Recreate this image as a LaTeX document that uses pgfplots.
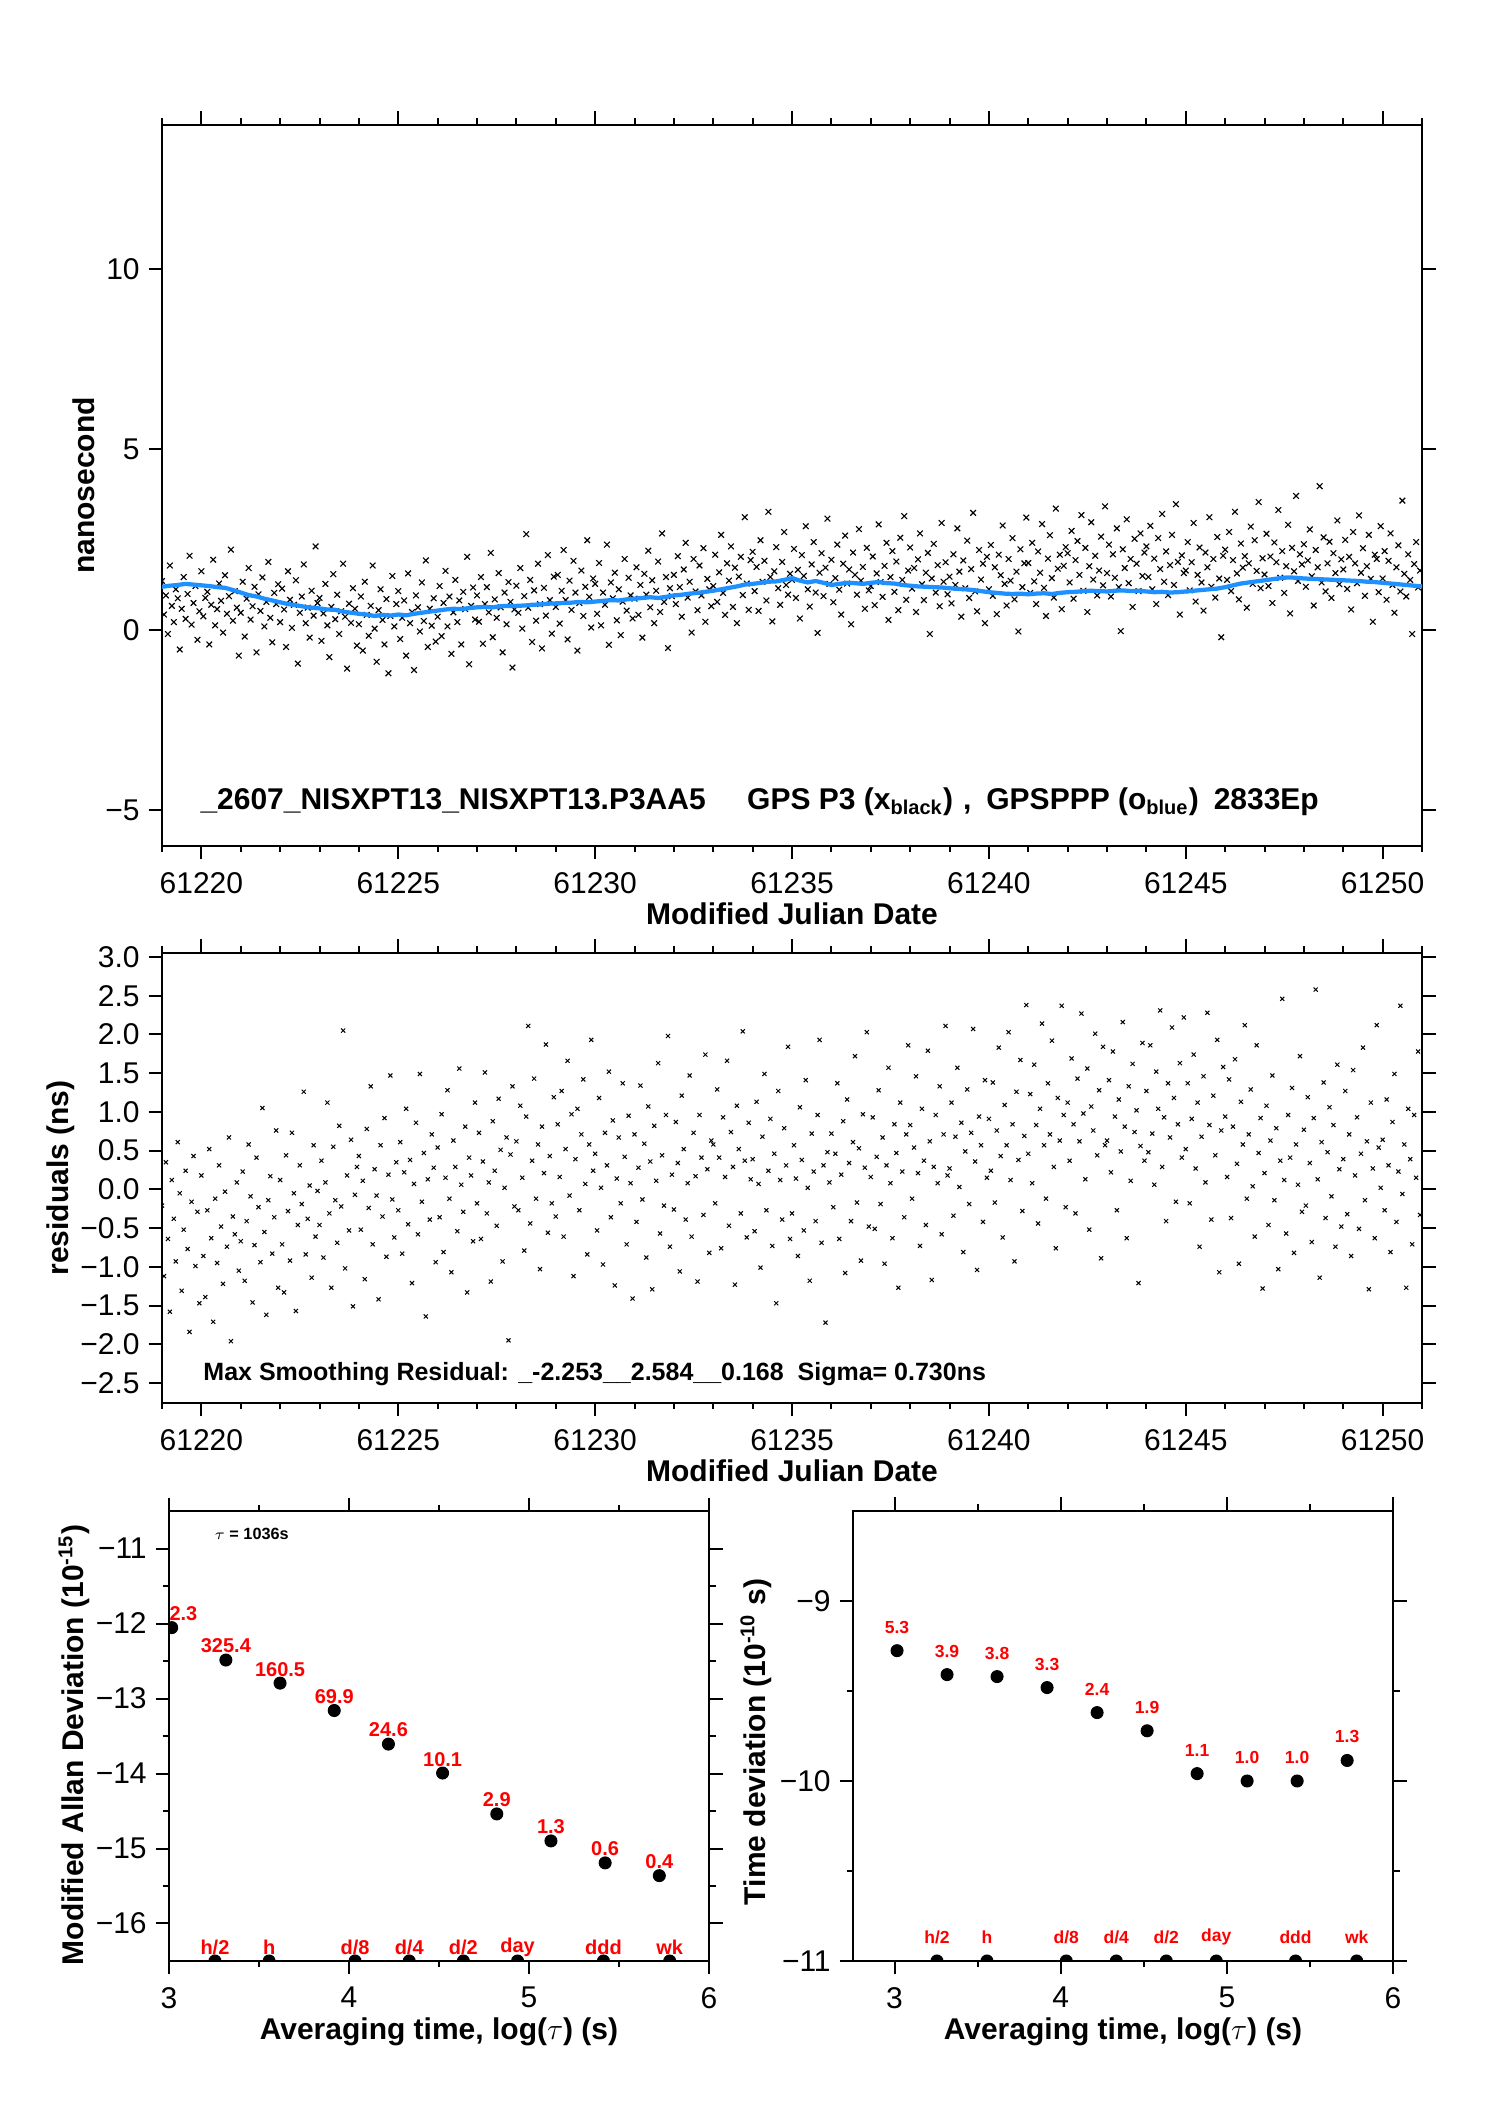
\documentclass[border=0pt]{standalone}
\usepackage{fontspec}
\setmainfont{Liberation Sans}
\usepackage{pgfplots}
\usepackage{pgfplotstable}
\pgfplotsset{compat=1.18}
\definecolor{gpsblue}{RGB}{30,144,255}

\pgfplotstableread{
x y
61219.00 1.35
61219.05 0.42
61219.10 0.95
61219.15 -0.12
61219.20 1.78
61219.25 0.66
61219.30 0.21
61219.35 1.12
61219.40 0.87
61219.45 -0.55
61219.50 0.58
61219.55 1.46
61219.60 0.30
61219.65 0.99
61219.70 2.05
61219.75 0.14
61219.80 0.74
61219.85 1.21
61219.90 -0.28
61219.95 0.51
61220.00 1.62
61220.05 0.37
61220.10 0.88
61220.15 1.05
61220.20 -0.41
61220.25 0.69
61220.30 1.94
61220.35 0.12
61220.40 0.57
61220.45 1.28
61220.50 0.80
61220.55 -0.08
61220.60 1.51
61220.65 0.44
61220.70 0.93
61220.75 2.22
61220.80 0.25
61220.85 1.07
61220.90 0.61
61220.95 -0.72
61221.00 0.47
61221.05 1.33
61221.10 -0.19
61221.15 0.86
61221.20 1.71
61221.25 0.28
61221.30 0.65
61221.35 1.19
61221.40 -0.63
61221.45 0.98
61221.50 0.52
61221.55 1.45
61221.60 0.09
61221.65 0.77
61221.70 1.88
61221.75 0.33
61221.80 -0.35
61221.85 1.02
61221.90 0.71
61221.95 1.26
61222.00 0.21
61222.05 1.14
61222.10 0.56
61222.15 -0.48
61222.20 1.62
61222.25 0.83
61222.30 0.05
61222.35 0.69
61222.40 1.37
61222.45 -0.94
61222.50 0.47
61222.55 0.92
61222.60 1.81
61222.65 0.18
61222.70 0.61
61222.75 -0.22
61222.80 1.08
61222.85 0.39
61222.90 2.31
61222.95 0.74
61223.00 0.88
61223.05 -0.31
61223.10 0.45
61223.15 1.27
61223.20 0.12
61223.25 -0.76
61223.30 0.63
61223.35 1.54
61223.40 0.29
61223.45 0.97
61223.50 -0.12
61223.55 0.51
61223.60 1.83
61223.65 0.36
61223.70 -1.08
61223.75 0.72
61223.80 0.19
61223.85 1.15
61223.90 0.58
61223.95 -0.44
61224.00 0.15
61224.05 0.92
61224.10 -0.58
61224.15 1.33
61224.20 0.41
61224.25 -0.17
61224.30 0.66
61224.35 1.78
61224.40 0.03
61224.45 -0.89
61224.50 0.54
61224.55 1.12
61224.60 0.27
61224.65 -0.41
61224.70 0.85
61224.75 -1.21
61224.80 0.38
61224.85 1.49
61224.90 0.09
61224.95 0.71
61225.00 1.07
61225.05 -0.26
61225.10 0.33
61225.15 0.81
61225.20 -0.72
61225.25 1.56
61225.30 0.18
61225.35 0.49
61225.40 -1.12
61225.45 0.95
61225.50 0.62
61225.55 -0.05
61225.60 1.31
61225.65 0.24
61225.70 1.92
61225.75 -0.48
61225.80 0.58
61225.85 0.11
61225.90 0.87
61225.95 -0.33
61226.00 0.36
61226.05 1.21
61226.10 -0.18
61226.15 0.74
61226.20 1.63
61226.25 0.09
61226.30 0.92
61226.35 -0.67
61226.40 0.48
61226.45 1.38
61226.50 0.21
61226.55 0.81
61226.60 -0.41
61226.65 1.05
61226.70 0.57
61226.75 2.02
61226.80 -0.96
61226.85 0.66
61226.90 1.17
61226.95 0.28
61227.00 0.95
61227.05 0.22
61227.10 1.46
61227.15 -0.39
61227.20 0.71
61227.25 1.18
61227.30 0.48
61227.35 2.13
61227.40 -0.21
61227.45 0.84
61227.50 0.33
61227.55 1.57
61227.60 0.62
61227.65 -0.63
61227.70 1.03
61227.75 0.15
61227.80 1.32
61227.85 0.77
61227.90 -1.05
61227.95 0.56
61228.00 1.22
61228.05 0.47
61228.10 1.71
61228.15 0.03
61228.20 0.93
61228.25 2.65
61228.30 0.61
61228.35 1.38
61228.40 -0.34
61228.45 1.09
61228.50 0.25
61228.55 1.83
61228.60 0.71
61228.65 -0.52
61228.70 1.16
61228.75 0.39
61228.80 2.07
61228.85 0.82
61228.90 -0.11
61228.95 1.47
61229.00 0.63
61229.05 1.52
61229.10 0.17
61229.15 1.08
61229.20 2.21
61229.25 0.82
61229.30 -0.27
61229.35 1.36
61229.40 0.55
61229.45 1.91
61229.50 1.03
61229.55 -0.58
61229.60 0.74
61229.65 1.64
61229.70 0.38
61229.75 1.19
61229.80 2.48
61229.85 0.91
61229.90 0.06
61229.95 1.42
61230.00 1.27
61230.05 0.44
61230.10 1.85
61230.15 0.12
61230.20 1.03
61230.25 0.69
61230.30 2.36
61230.35 -0.42
61230.40 1.31
61230.45 0.87
61230.50 1.58
61230.55 0.26
61230.60 1.12
61230.65 -0.15
61230.70 0.78
61230.75 1.96
61230.80 0.53
61230.85 1.44
61230.90 0.95
61230.95 0.31
61231.00 0.86
61231.05 1.73
61231.10 0.41
61231.15 1.24
61231.20 -0.22
61231.25 1.55
61231.30 0.97
61231.35 2.19
61231.40 0.62
61231.45 1.37
61231.50 0.18
61231.55 1.08
61231.60 1.89
61231.65 0.49
61231.70 2.67
61231.75 0.77
61231.80 1.46
61231.85 -0.51
61231.90 1.15
61231.95 0.93
61232.00 1.52
61232.05 0.71
61232.10 2.04
61232.15 1.18
61232.20 0.36
61232.25 1.67
61232.30 2.41
61232.35 0.89
61232.40 1.33
61232.45 -0.08
61232.50 1.96
61232.55 1.06
61232.60 0.54
61232.65 1.78
61232.70 0.95
61232.75 2.26
61232.80 0.22
61232.85 1.41
61232.90 1.12
61232.95 0.65
61233.00 1.21
61233.05 2.08
61233.10 0.77
61233.15 1.59
61233.20 2.63
61233.25 1.02
61233.30 0.41
61233.35 1.84
61233.40 1.36
61233.45 2.31
61233.50 0.63
61233.55 1.72
61233.60 0.18
61233.65 1.47
61233.70 2.02
61233.75 0.96
61233.80 3.12
61233.85 1.28
61233.90 0.55
61233.95 1.93
61234.00 2.16
61234.05 1.07
61234.10 1.74
61234.15 0.52
61234.20 2.48
61234.25 1.33
61234.30 1.91
61234.35 0.81
61234.40 3.27
61234.45 1.46
61234.50 0.23
61234.55 1.62
61234.60 2.29
61234.65 1.15
61234.70 0.69
61234.75 1.88
61234.80 2.71
61234.85 1.24
61234.90 0.97
61234.95 1.55
61235.00 1.38
61235.05 2.24
61235.10 0.88
61235.15 1.66
61235.20 0.31
61235.25 2.07
61235.30 1.49
61235.35 2.87
61235.40 1.12
61235.45 0.64
61235.50 1.81
61235.55 2.43
61235.60 1.03
61235.65 -0.09
61235.70 1.58
61235.75 2.12
61235.80 0.93
61235.85 1.72
61235.90 3.08
61235.95 1.27
61236.00 1.94
61236.05 0.76
61236.10 1.43
61236.15 2.36
61236.20 1.11
61236.25 0.42
61236.30 1.83
61236.35 2.61
61236.40 1.28
61236.45 1.67
61236.50 0.15
61236.55 2.14
61236.60 1.52
61236.65 0.97
61236.70 2.79
61236.75 1.36
61236.80 1.74
61236.85 0.58
61236.90 2.27
61236.95 1.09
61237.00 1.21
61237.05 2.03
61237.10 0.68
61237.15 1.56
61237.20 2.92
61237.25 1.32
61237.30 0.91
61237.35 1.77
61237.40 2.41
61237.45 0.27
61237.50 1.46
61237.55 2.18
61237.60 1.05
61237.65 1.89
61237.70 0.54
61237.75 2.55
61237.80 1.38
61237.85 3.15
61237.90 0.83
61237.95 1.64
61238.00 2.28
61238.05 1.14
61238.10 1.71
61238.15 0.49
61238.20 1.95
61238.25 2.67
61238.30 1.26
61238.35 0.82
61238.40 1.58
61238.45 2.13
61238.50 -0.12
61238.55 1.42
61238.60 2.38
61238.65 1.03
61238.70 1.79
61238.75 0.65
61238.80 2.96
61238.85 1.33
61238.90 1.87
61238.95 0.98
61239.00 1.47
61239.05 0.73
61239.10 2.09
61239.15 1.24
61239.20 2.81
61239.25 1.61
61239.30 0.36
61239.35 1.92
61239.40 1.15
61239.45 2.47
61239.50 0.88
61239.55 1.68
61239.60 3.24
61239.65 1.06
61239.70 0.51
61239.75 2.21
61239.80 1.39
61239.85 1.83
61239.90 0.18
61239.95 2.02
61240.00 1.12
61240.05 2.35
61240.10 0.94
61240.15 1.73
61240.20 0.43
61240.25 2.08
61240.30 1.51
61240.35 2.89
61240.40 1.27
61240.45 0.67
61240.50 1.96
61240.55 1.36
61240.60 2.54
61240.65 0.84
61240.70 1.61
61240.75 -0.05
61240.80 2.23
61240.85 1.18
61240.90 1.84
61240.95 3.11
61241.00 1.85
61241.05 1.02
61241.10 2.41
61241.15 1.34
61241.20 0.71
61241.25 2.17
61241.30 1.58
61241.35 2.93
61241.40 1.16
61241.45 0.38
61241.50 1.97
61241.55 2.62
61241.60 1.43
61241.65 0.89
61241.70 3.36
61241.75 1.69
61241.80 2.08
61241.85 0.57
61241.90 1.77
61241.95 2.29
61242.00 2.12
61242.05 1.31
61242.10 2.74
61242.15 0.86
61242.20 1.93
61242.25 2.46
61242.30 1.52
61242.35 3.18
61242.40 1.08
61242.45 2.27
61242.50 0.49
61242.55 1.76
61242.60 2.98
61242.65 1.39
61242.70 2.05
61242.75 0.95
61242.80 1.64
61242.85 2.58
61242.90 1.23
61242.95 3.42
61243.00 1.57
61243.05 2.36
61243.10 0.92
61243.15 2.09
61243.20 1.44
61243.25 2.81
61243.30 1.18
61243.35 -0.04
61243.40 2.23
61243.45 1.71
61243.50 3.06
61243.55 1.29
61243.60 1.96
61243.65 0.63
61243.70 2.52
61243.75 1.83
61243.80 1.07
61243.85 2.67
61243.90 1.49
61243.95 2.14
61244.00 2.31
61244.05 1.46
61244.10 2.88
61244.15 1.12
61244.20 1.97
61244.25 0.71
61244.30 2.54
61244.35 1.68
61244.40 3.21
61244.45 1.33
61244.50 2.17
61244.55 0.96
61244.60 1.79
61244.65 2.63
61244.70 1.24
61244.75 3.48
61244.80 1.88
61244.85 0.42
61244.90 2.06
61244.95 1.57
61245.00 1.64
61245.05 2.43
61245.10 1.09
61245.15 1.87
61245.20 2.96
61245.25 0.78
61245.30 1.52
61245.35 2.28
61245.40 1.31
61245.45 0.53
61245.50 2.14
61245.55 1.73
61245.60 3.12
61245.65 1.19
61245.70 1.96
61245.75 0.89
61245.80 2.57
61245.85 1.42
61245.90 -0.21
61245.95 2.05
61246.00 2.22
61246.05 1.38
61246.10 2.71
61246.15 1.07
61246.20 1.93
61246.25 3.27
61246.30 1.56
61246.35 0.84
61246.40 2.39
61246.45 1.72
61246.50 2.04
61246.55 0.61
61246.60 1.84
61246.65 2.86
61246.70 1.27
61246.75 2.48
61246.80 1.63
61246.85 3.54
61246.90 1.15
61246.95 1.98
61247.00 1.53
61247.05 2.66
61247.10 1.21
61247.15 2.03
61247.20 0.74
61247.25 2.42
61247.30 1.87
61247.35 3.32
61247.40 1.44
61247.45 2.18
61247.50 1.02
61247.55 1.76
61247.60 2.91
61247.65 0.45
61247.70 2.27
61247.75 1.62
61247.80 3.71
61247.85 1.35
61247.90 2.09
61247.95 1.81
61248.00 2.37
61248.05 1.19
61248.10 1.92
61248.15 2.78
61248.20 1.48
61248.25 0.67
61248.30 2.21
61248.35 1.73
61248.40 3.98
61248.45 1.31
61248.50 2.56
61248.55 1.06
61248.60 1.84
61248.65 2.44
61248.70 0.88
61248.75 2.12
61248.80 1.57
61248.85 3.03
61248.90 1.26
61248.95 1.95
61249.00 1.67
61249.05 2.49
61249.10 1.13
61249.15 2.02
61249.20 0.56
61249.25 2.71
61249.30 1.84
61249.35 1.29
61249.40 3.17
61249.45 1.58
61249.50 2.26
61249.55 0.94
61249.60 1.76
61249.65 2.63
61249.70 1.41
61249.75 0.22
61249.80 2.08
61249.85 1.96
61249.90 1.04
61249.95 2.87
61250.00 1.42
61250.05 2.18
61250.10 0.83
61250.15 1.91
61250.20 2.67
61250.25 1.24
61250.30 0.47
61250.35 1.73
61250.40 2.34
61250.45 1.06
61250.50 3.58
61250.55 1.55
61250.60 0.92
61250.65 2.09
61250.70 1.38
61250.75 -0.12
61250.80 1.82
61250.85 2.43
61250.90 1.17
61250.95 1.64
}\topdata

\pgfplotstableread{
x y
61219.0 1.19
61219.2 1.22
61219.4 1.24
61219.6 1.27
61219.8 1.25
61220.0 1.23
61220.2 1.21
61220.4 1.18
61220.6 1.16
61220.8 1.10
61221.0 1.03
61221.2 0.96
61221.4 0.92
61221.6 0.86
61221.8 0.81
61222.0 0.76
61222.2 0.71
61222.4 0.68
61222.6 0.64
61222.8 0.61
61223.0 0.59
61223.2 0.56
61223.4 0.55
61223.6 0.50
61223.8 0.47
61224.0 0.44
61224.2 0.42
61224.4 0.38
61224.6 0.41
61224.8 0.39
61225.0 0.42
61225.2 0.40
61225.4 0.44
61225.6 0.47
61225.8 0.50
61226.0 0.53
61226.2 0.56
61226.4 0.58
61226.6 0.57
61226.8 0.60
61227.0 0.62
61227.2 0.63
61227.4 0.62
61227.6 0.65
61227.8 0.66
61228.0 0.66
61228.2 0.67
61228.4 0.69
61228.6 0.70
61228.8 0.72
61229.0 0.73
61229.2 0.74
61229.4 0.75
61229.6 0.77
61229.8 0.76
61230.0 0.78
61230.2 0.80
61230.4 0.82
61230.6 0.81
61230.8 0.84
61231.0 0.86
61231.2 0.88
61231.4 0.90
61231.6 0.88
61231.8 0.91
61232.0 0.95
61232.2 0.97
61232.4 1.00
61232.6 1.02
61232.8 1.05
61233.0 1.08
61233.2 1.12
61233.4 1.16
61233.6 1.20
61233.8 1.25
61234.0 1.27
61234.2 1.30
61234.4 1.33
61234.6 1.34
61234.8 1.38
61235.0 1.43
61235.2 1.36
61235.4 1.31
61235.6 1.35
61235.8 1.30
61236.0 1.24
61236.2 1.27
61236.4 1.30
61236.6 1.29
61236.8 1.27
61237.0 1.30
61237.2 1.32
61237.4 1.29
61237.6 1.28
61237.8 1.24
61238.0 1.22
61238.2 1.20
61238.4 1.19
61238.6 1.18
61238.8 1.17
61239.0 1.15
61239.2 1.13
61239.4 1.12
61239.6 1.10
61239.8 1.07
61240.0 1.04
61240.2 1.02
61240.4 1.00
61240.6 0.99
61240.8 1.00
61241.0 0.98
61241.2 1.00
61241.4 1.01
61241.6 0.99
61241.8 1.02
61242.0 1.04
61242.2 1.05
61242.4 1.07
61242.6 1.08
61242.8 1.07
61243.0 1.06
61243.2 1.08
61243.4 1.09
61243.6 1.07
61243.8 1.08
61244.0 1.06
61244.2 1.04
61244.4 1.05
61244.6 1.03
61244.8 1.04
61245.0 1.06
61245.2 1.08
61245.4 1.10
61245.6 1.12
61245.8 1.14
61246.0 1.18
61246.2 1.23
61246.4 1.28
61246.6 1.31
61246.8 1.34
61247.0 1.37
61247.2 1.40
61247.4 1.43
61247.6 1.45
61247.8 1.44
61248.0 1.42
61248.2 1.41
61248.4 1.40
61248.6 1.39
61248.8 1.38
61249.0 1.37
61249.2 1.36
61249.4 1.35
61249.6 1.33
61249.8 1.32
61250.0 1.30
61250.2 1.28
61250.4 1.26
61250.6 1.24
61250.8 1.22
61251.0 1.20
}\bluedata

\pgfplotstableread{
x y
61219.00 -0.21
61219.05 -1.12
61219.10 0.35
61219.15 -0.64
61219.20 -1.58
61219.25 0.12
61219.30 -0.38
61219.35 -0.93
61219.40 0.61
61219.45 -0.05
61219.50 -1.31
61219.55 -0.52
61219.60 0.24
61219.65 -0.77
61219.70 -1.84
61219.75 -0.16
61219.80 0.43
61219.85 -0.99
61219.90 -0.29
61219.95 -1.47
61220.00 0.18
61220.05 -0.86
61220.10 -1.39
61220.15 -0.27
61220.20 0.52
61220.25 -0.63
61220.30 -1.71
61220.35 -0.12
61220.40 -0.95
61220.45 0.31
61220.50 -0.48
61220.55 -1.22
61220.60 -0.03
61220.65 -0.74
61220.70 0.67
61220.75 -1.96
61220.80 -0.35
61220.85 -0.58
61220.90 0.09
61220.95 -1.05
61221.00 -0.67
61221.05 0.23
61221.10 -1.18
61221.15 -0.41
61221.20 0.58
61221.25 -0.09
61221.30 -1.46
61221.35 -0.72
61221.40 0.41
61221.45 -0.23
61221.50 -0.94
61221.55 1.05
61221.60 -0.55
61221.65 -1.62
61221.70 -0.14
61221.75 0.17
61221.80 -0.83
61221.85 -0.36
61221.90 0.76
61221.95 -1.27
61222.00 0.12
61222.05 -0.71
61222.10 -1.33
61222.15 0.44
61222.20 -0.28
61222.25 -0.92
61222.30 0.73
61222.35 -0.05
61222.40 -1.57
61222.45 -0.46
61222.50 0.31
61222.55 -0.19
61222.60 1.26
61222.65 -0.84
61222.70 -0.38
61222.75 0.05
61222.80 -1.14
61222.85 0.57
61222.90 -0.61
61222.95 -0.02
61223.00 -0.46
61223.05 0.37
61223.10 -0.88
61223.15 0.09
61223.20 1.12
61223.25 -0.31
61223.30 -1.27
61223.35 0.55
61223.40 -0.14
61223.45 -0.69
61223.50 0.82
61223.55 -0.22
61223.60 2.05
61223.65 -1.02
61223.70 0.18
61223.75 -0.53
61223.80 0.64
61223.85 -1.51
61223.90 -0.07
61223.95 0.29
61224.00 0.43
61224.05 -0.52
61224.10 0.11
61224.15 -1.16
61224.20 0.78
61224.25 -0.24
61224.30 1.33
61224.35 -0.71
61224.40 0.26
61224.45 -0.08
61224.50 -1.42
61224.55 0.57
61224.60 -0.35
61224.65 0.92
61224.70 -0.87
61224.75 0.19
61224.80 1.47
61224.85 -0.13
61224.90 -0.62
61224.95 0.35
61225.00 -0.27
61225.05 0.61
61225.10 -0.83
61225.15 0.22
61225.20 1.04
61225.25 -0.45
61225.30 0.38
61225.35 -1.21
61225.40 0.07
61225.45 0.86
61225.50 -0.58
61225.55 1.49
61225.60 -0.16
61225.65 0.47
61225.70 -1.64
61225.75 0.13
61225.80 -0.39
61225.85 0.71
61225.90 0.28
61225.95 -0.94
61226.00 0.54
61226.05 -0.36
61226.10 0.97
61226.15 -0.81
61226.20 0.15
61226.25 1.28
61226.30 -0.12
61226.35 -1.07
61226.40 0.63
61226.45 0.29
61226.50 -0.54
61226.55 1.56
61226.60 0.06
61226.65 -0.29
61226.70 0.81
61226.75 -1.33
61226.80 0.41
61226.85 0.18
61226.90 -0.67
61226.95 1.12
61227.00 -0.18
61227.05 0.73
61227.10 -0.64
61227.15 0.36
61227.20 1.51
61227.25 -0.31
61227.30 0.09
61227.35 -1.19
61227.40 0.88
61227.45 0.24
61227.50 -0.47
61227.55 1.17
61227.60 0.51
61227.65 -0.93
61227.70 0.02
61227.75 0.67
61227.80 -1.95
61227.85 0.45
61227.90 1.33
61227.95 -0.22
61228.00 0.62
61228.05 -0.27
61228.10 1.08
61228.15 0.15
61228.20 -0.79
61228.25 0.94
61228.30 2.11
61228.35 -0.44
61228.40 0.37
61228.45 1.43
61228.50 -0.12
61228.55 0.58
61228.60 -1.03
61228.65 0.81
61228.70 0.21
61228.75 1.87
61228.80 -0.56
61228.85 0.43
61228.90 -0.18
61228.95 1.19
61229.00 -0.35
61229.05 0.84
61229.10 0.16
61229.15 1.27
61229.20 -0.61
61229.25 0.52
61229.30 1.66
61229.35 -0.08
61229.40 0.97
61229.45 -1.12
61229.50 0.39
61229.55 1.04
61229.60 -0.27
61229.65 0.71
61229.70 1.42
61229.75 0.07
61229.80 -0.84
61229.85 0.58
61229.90 1.93
61229.95 0.24
61230.00 0.46
61230.05 -0.53
61230.10 1.18
61230.15 0.02
61230.20 -0.97
61230.25 0.73
61230.30 0.31
61230.35 1.52
61230.40 -0.36
61230.45 0.89
61230.50 -1.24
61230.55 0.14
61230.60 0.67
61230.65 -0.18
61230.70 1.37
61230.75 0.42
61230.80 -0.71
61230.85 0.95
61230.90 0.08
61230.95 -1.41
61231.00 0.71
61231.05 -0.42
61231.10 0.28
61231.15 1.34
61231.20 -0.13
61231.25 0.59
61231.30 -0.88
61231.35 1.07
61231.40 0.36
61231.45 -1.29
61231.50 0.82
61231.55 0.11
61231.60 1.63
61231.65 -0.57
61231.70 0.44
61231.75 -0.21
61231.80 0.96
61231.85 1.98
61231.90 -0.74
61231.95 0.19
61232.00 -0.26
61232.05 0.87
61232.10 0.34
61232.15 -1.06
61232.20 1.21
61232.25 0.52
61232.30 -0.39
61232.35 0.08
61232.40 1.47
61232.45 -0.61
61232.50 0.73
61232.55 0.17
61232.60 -1.19
61232.65 0.96
61232.70 0.41
61232.75 -0.33
61232.80 1.74
61232.85 0.26
61232.90 -0.82
61232.95 0.63
61233.00 0.58
61233.05 -0.18
61233.10 1.29
61233.15 0.41
61233.20 -0.76
61233.25 0.93
61233.30 0.16
61233.35 1.66
61233.40 -0.47
61233.45 0.74
61233.50 0.29
61233.55 -1.23
61233.60 1.08
61233.65 0.52
61233.70 -0.31
61233.75 2.04
61233.80 0.37
61233.85 -0.62
61233.90 0.86
61233.95 0.13
61234.00 0.39
61234.05 -0.54
61234.10 1.13
61234.15 0.07
61234.20 -1.01
61234.25 0.68
61234.30 1.49
61234.35 -0.27
61234.40 0.24
61234.45 0.91
61234.50 -0.73
61234.55 0.46
61234.60 -1.47
61234.65 1.27
61234.70 0.12
61234.75 -0.39
61234.80 0.79
61234.85 0.31
61234.90 1.84
61234.95 -0.64
61235.00 -0.31
61235.05 0.57
61235.10 0.14
61235.15 -0.86
61235.20 1.06
61235.25 0.38
61235.30 -0.53
61235.35 1.41
61235.40 0.02
61235.45 -1.18
61235.50 0.72
61235.55 0.23
61235.60 -0.41
61235.65 0.96
61235.70 1.93
61235.75 -0.69
61235.80 0.31
61235.85 -1.72
61235.90 0.48
61235.95 0.09
61236.00 0.72
61236.05 -0.23
61236.10 0.46
61236.15 1.37
61236.20 -0.64
61236.25 0.19
61236.30 0.88
61236.35 -1.08
61236.40 1.16
61236.45 0.34
61236.50 -0.41
61236.55 0.61
61236.60 1.72
61236.65 -0.17
61236.70 0.53
61236.75 -0.92
61236.80 0.97
61236.85 0.28
61236.90 2.03
61236.95 -0.48
61237.00 0.16
61237.05 0.93
61237.10 -0.51
61237.15 0.42
61237.20 1.28
61237.25 -0.19
61237.30 0.67
61237.35 -0.96
61237.40 0.31
61237.45 1.57
61237.50 0.08
61237.55 -0.63
61237.60 0.84
61237.65 0.47
61237.70 -1.27
61237.75 1.12
61237.80 0.23
61237.85 -0.36
61237.90 0.71
61237.95 1.86
61238.00 0.83
61238.05 -0.12
61238.10 0.54
61238.15 1.46
61238.20 0.21
61238.25 -0.73
61238.30 1.04
61238.35 0.37
61238.40 -0.46
61238.45 1.79
61238.50 0.62
61238.55 -1.17
61238.60 0.29
61238.65 0.96
61238.70 0.08
61238.75 1.33
61238.80 -0.58
61238.85 0.71
61238.90 2.11
61238.95 0.18
61239.00 0.27
61239.05 1.12
61239.10 -0.34
61239.15 0.68
61239.20 1.57
61239.25 0.03
61239.30 0.86
61239.35 -0.81
61239.40 0.49
61239.45 1.29
61239.50 -0.19
61239.55 0.73
61239.60 2.07
61239.65 0.36
61239.70 -1.04
61239.75 0.94
61239.80 0.57
61239.85 -0.42
61239.90 1.41
61239.95 0.15
61240.00 0.91
61240.05 0.24
61240.10 1.38
61240.15 -0.17
61240.20 0.76
61240.25 1.83
61240.30 0.43
61240.35 -0.62
61240.40 1.09
61240.45 0.57
61240.50 2.03
61240.55 0.12
61240.60 0.84
61240.65 -0.93
61240.70 1.26
61240.75 0.38
61240.80 1.67
61240.85 -0.28
61240.90 0.69
61240.95 2.38
61241.00 0.46
61241.05 1.23
61241.10 0.08
61241.15 1.61
61241.20 0.83
61241.25 -0.44
61241.30 1.04
61241.35 2.14
61241.40 0.57
61241.45 -0.12
61241.50 1.37
61241.55 0.71
61241.60 1.92
61241.65 0.29
61241.70 -0.76
61241.75 1.18
61241.80 0.63
61241.85 2.37
61241.90 0.96
61241.95 -0.23
61242.00 1.12
61242.05 0.37
61242.10 1.69
61242.15 0.84
61242.20 -0.31
61242.25 1.43
61242.30 0.62
61242.35 2.27
61242.40 0.98
61242.45 0.13
61242.50 1.56
61242.55 -0.52
61242.60 1.07
61242.65 0.76
61242.70 2.01
61242.75 0.44
61242.80 1.28
61242.85 -0.89
61242.90 1.84
61242.95 0.57
61243.00 0.63
61243.05 1.41
61243.10 0.22
61243.15 1.78
61243.20 0.94
61243.25 -0.27
61243.30 1.16
61243.35 0.49
61243.40 2.16
61243.45 0.81
61243.50 -0.63
61243.55 1.33
61243.60 0.11
61243.65 1.62
61243.70 0.74
61243.75 1.02
61243.80 -1.21
61243.85 0.56
61243.90 1.89
61243.95 0.37
61244.00 1.27
61244.05 0.48
61244.10 1.86
61244.15 0.72
61244.20 0.06
61244.25 1.52
61244.30 1.04
61244.35 2.31
61244.40 0.29
61244.45 0.93
61244.50 -0.41
61244.55 1.37
61244.60 0.67
61244.65 2.09
61244.70 1.18
61244.75 -0.16
61244.80 0.84
61244.85 1.63
61244.90 0.41
61244.95 2.22
61245.00 0.52
61245.05 1.37
61245.10 -0.18
61245.15 0.91
61245.20 1.74
61245.25 0.27
61245.30 1.12
61245.35 -0.74
61245.40 0.68
61245.45 1.46
61245.50 0.09
61245.55 2.28
61245.60 0.83
61245.65 -0.39
61245.70 1.21
61245.75 0.44
61245.80 1.93
61245.85 -1.07
61245.90 0.76
61245.95 1.58
61246.00 0.94
61246.05 0.16
61246.10 1.42
61246.15 -0.37
61246.20 0.81
61246.25 1.68
61246.30 0.33
61246.35 -0.96
61246.40 1.13
61246.45 0.58
61246.50 2.12
61246.55 -0.12
61246.60 0.71
61246.65 1.29
61246.70 0.04
61246.75 -0.61
61246.80 1.86
61246.85 0.47
61246.90 0.92
61246.95 -1.28
61247.00 0.21
61247.05 1.08
61247.10 -0.46
61247.15 0.63
61247.20 1.47
61247.25 -0.14
61247.30 0.79
61247.35 -1.03
61247.40 0.37
61247.45 2.46
61247.50 0.12
61247.55 -0.57
61247.60 0.96
61247.65 0.41
61247.70 1.31
61247.75 -0.82
61247.80 0.58
61247.85 0.06
61247.90 1.72
61247.95 -0.29
61248.00 0.77
61248.05 -0.21
61248.10 1.19
61248.15 0.34
61248.20 -0.68
61248.25 0.92
61248.30 2.58
61248.35 0.13
61248.40 -1.14
61248.45 0.61
61248.50 1.38
61248.55 -0.37
61248.60 0.48
61248.65 1.06
61248.70 -0.09
61248.75 0.83
61248.80 -0.74
61248.85 1.61
61248.90 0.26
61248.95 -0.48
61249.00 0.39
61249.05 1.27
61249.10 -0.32
61249.15 0.71
61249.20 -0.86
61249.25 1.54
61249.30 0.18
61249.35 0.93
61249.40 -0.51
61249.45 0.46
61249.50 1.83
61249.55 -0.14
61249.60 0.62
61249.65 -1.29
61249.70 1.12
61249.75 0.27
61249.80 -0.63
61249.85 2.12
61249.90 0.54
61249.95 0.02
61250.00 0.64
61250.05 -0.27
61250.10 1.16
61250.15 0.31
61250.20 -0.81
61250.25 0.87
61250.30 1.49
61250.35 -0.42
61250.40 0.23
61250.45 2.37
61250.50 -0.06
61250.55 0.58
61250.60 -1.27
61250.65 1.04
61250.70 0.39
61250.75 -0.71
61250.80 0.96
61250.85 0.15
61250.90 1.78
61250.95 -0.33
}\resdata

\pgfplotsset{
  panel/.style={
    scale only axis,
    anchor=south west,
    clip marker paths=true,
    scaled ticks=false,
    axis line style={line width=0.5pt},
    tick align=outside,
    major tick length=5.4pt,
    minor tick length=2.6pt,
    every tick/.style={black, line width=0.8pt},
    tick label style={font=\fontsize{12}{14}\selectfont},
    xticklabel style={yshift=-1.6pt},
    label style={font=\bfseries\fontsize{12}{14}\selectfont},
  },
  mjd/.style={
    xmin=61219, xmax=61251,
    xtick={61220,61225,61230,61235,61240,61245,61250},
    xticklabels={61220,61225,61230,61235,61240,61245,61250},
    minor xtick={61219,61221,61222,61223,61224,61226,61227,61228,61229,61231,61232,61233,61234,61236,61237,61238,61239,61241,61242,61243,61244,61246,61247,61248,61249,61251},
    xlabel={Modified Julian Date},
    xlabel style={at={([yshift=-31.4pt]axis description cs:0.5,0)}, anchor=base},
  },
}

\begin{document}
\begin{tikzpicture}
\path[use as bounding box] (0pt,0pt) rectangle (595.2pt,842pt);

% ---------- top panel ----------
\begin{axis}[panel, mjd,
  at={(64.8pt,503.6pt)}, width=504pt, height=288.4pt,
  ymin=-6, ymax=14,
  ytick={-5,0,5,10}, yticklabels={−5,0,5,10},
  ylabel={nanosecond},
  ylabel style={at={([xshift=-31.2pt]axis description cs:0,0.5)}, anchor=center},
]
\addplot[only marks, mark=x, mark size=1.6pt, black, mark options={line width=0.45pt}] table[x=x,y=y] {\topdata};
\addplot[gpsblue, line width=1.7pt, line join=round] table[x=x,y=y] {\bluedata};
\node[anchor=base west, font=\bfseries\fontsize{12}{14}\selectfont, inner sep=0pt] at (axis cs:61219.965,-5.0)
  {\_2607\_NISXPT13\_NISXPT13.P3AA5\hspace{16.6pt}GPS P3 (x\textsubscript{black})\hspace{4pt},\hspace{6pt}GPSPPP (o\textsubscript{blue})\hspace{6pt}2833Ep};
\end{axis}

% ---------- middle panel ----------
\begin{axis}[panel, mjd,
  at={(64.8pt,280.8pt)}, width=504pt, height=180pt,
  ymin=-2.758, ymax=3.052,
  ytick={-2.5,-2,-1.5,-1,-0.5,0,0.5,1,1.5,2,2.5,3},
  yticklabels={−2.5,−2.0,−1.5,−1.0,−0.5,0.0,0.5,1.0,1.5,2.0,2.5,3.0},
  ylabel={residuals (ns)},
  ylabel style={at={([xshift=-40.4pt]axis description cs:0,0.5)}, anchor=center},
]
\addplot[only marks, mark=x, mark size=1.15pt, black, mark options={line width=0.4pt}] table[x=x,y=y] {\resdata};
\node[anchor=base west, font=\bfseries\fontsize{10}{12}\selectfont, inner sep=0pt] at (axis cs:61220.04,-2.474)
  {Max Smoothing Residual: \_-2.253\_\_2.584\_\_0.168\ \ Sigma= 0.730ns};
\end{axis}

% ---------- bottom left: MDEV ----------
\begin{axis}[panel,
  at={(67.6pt,57.6pt)}, width=216pt, height=180pt,
  xmin=3, xmax=6, ymin=-16.5, ymax=-10.5,
  xtick={3,4,5,6}, xticklabels={3,4,5,6},
  minor xtick={3.5,4.5,5.5},
  ytick={-11,-12,-13,-14,-15,-16}, yticklabels={−11,−12,−13,−14,−15,−16},
  minor ytick={-11.5,-12.5,-13.5,-14.5,-15.5},
  xlabel={Averaging time, log($\tau$) (s)},
  xlabel style={at={([yshift=-31.2pt]axis description cs:0.5,0)}, anchor=base},
  ylabel={Modified Allan Deviation (10\textsuperscript{-15})},
  ylabel style={at={([xshift=-38.0pt]axis description cs:0,0.48)}, anchor=center},
]
\addplot[only marks, mark=*, mark size=2.4pt, black] coordinates {
(3.015,-12.055) (3.316,-12.487) (3.617,-12.795) (3.918,-13.160) (4.219,-13.608)
(4.520,-13.994) (4.821,-14.539) (5.122,-14.899) (5.423,-15.192) (5.724,-15.362)};
\addplot[only marks, mark=*, mark size=2.4pt, black] coordinates {
(3.2553,-16.5) (3.5563,-16.5) (4.0334,-16.5) (4.3345,-16.5) (4.6355,-16.5) (4.9365,-16.5) (5.4136,-16.5) (5.7816,-16.5)};
\begin{scope}[every node/.style={red, font=\bfseries\fontsize{8}{9}\selectfont, inner sep=0pt, anchor=center}]
\node at (axis cs:3.08,-11.87) {2.3};
\node at (axis cs:3.316,-12.30) {325.4};
\node at (axis cs:3.617,-12.61) {160.5};
\node at (axis cs:3.918,-12.97) {69.9};
\node at (axis cs:4.219,-13.42) {24.6};
\node at (axis cs:4.520,-13.81) {10.1};
\node at (axis cs:4.821,-14.35) {2.9};
\node at (axis cs:5.122,-14.71) {1.3};
\node at (axis cs:5.423,-15.00) {0.6};
\node at (axis cs:5.724,-15.17) {0.4};
\node at (axis cs:3.2553,-16.32) {h/2};
\node at (axis cs:3.5563,-16.32) {h};
\node at (axis cs:4.0334,-16.32) {d/8};
\node at (axis cs:4.3345,-16.32) {d/4};
\node at (axis cs:4.6355,-16.32) {d/2};
\node at (axis cs:4.9365,-16.32) {day};
\node at (axis cs:5.4136,-16.32) {ddd};
\node at (axis cs:5.7816,-16.32) {wk};
\end{scope}
\node[anchor=west, font=\bfseries\fontsize{6.5}{7}\selectfont, inner sep=0pt] at (axis cs:3.25,-10.81) {$\tau$ = 1036s};
\end{axis}

% ---------- bottom right: TDEV ----------
\begin{axis}[panel,
  at={(341.2pt,57.6pt)}, width=216pt, height=180pt,
  xmin=2.75, xmax=6, ymin=-11, ymax=-8.5,
  xtick={3,4,5,6}, xticklabels={3,4,5,6},
  minor xtick={3.5,4.5,5.5},
  ytick={-9,-10,-11}, yticklabels={−9,−10,−11},
  minor ytick={-9.5,-10.5},
  xlabel={Averaging time, log($\tau$) (s)},
  xlabel style={at={([yshift=-31.2pt]axis description cs:0.5,0)}, anchor=base},
  ylabel={Time deviation (10\textsuperscript{-10} s)},
  ylabel style={at={([xshift=-38.8pt]axis description cs:0,0.487)}, anchor=center},
]
\addplot[only marks, mark=*, mark size=2.4pt, black] coordinates {
(3.015,-9.276) (3.316,-9.409) (3.617,-9.420) (3.918,-9.481) (4.219,-9.620)
(4.520,-9.721) (4.821,-9.959) (5.122,-10.000) (5.423,-10.000) (5.724,-9.886)};
\addplot[only marks, mark=*, mark size=2.4pt, black] coordinates {
(3.2553,-11) (3.5563,-11) (4.0334,-11) (4.3345,-11) (4.6355,-11) (4.9365,-11) (5.4136,-11) (5.7816,-11)};
\begin{scope}[every node/.style={red, font=\bfseries\fontsize{7}{8}\selectfont, inner sep=0pt, anchor=center}]
\node at (axis cs:3.015,-9.145) {5.3};
\node at (axis cs:3.316,-9.278) {3.9};
\node at (axis cs:3.617,-9.289) {3.8};
\node at (axis cs:3.918,-9.350) {3.3};
\node at (axis cs:4.219,-9.489) {2.4};
\node at (axis cs:4.520,-9.590) {1.9};
\node at (axis cs:4.821,-9.828) {1.1};
\node at (axis cs:5.122,-9.869) {1.0};
\node at (axis cs:5.423,-9.869) {1.0};
\node at (axis cs:5.724,-9.755) {1.3};
\node at (axis cs:3.2553,-10.867) {h/2};
\node at (axis cs:3.5563,-10.867) {h};
\node at (axis cs:4.0334,-10.867) {d/8};
\node at (axis cs:4.3345,-10.867) {d/4};
\node at (axis cs:4.6355,-10.867) {d/2};
\node at (axis cs:4.9365,-10.867) {day};
\node at (axis cs:5.4136,-10.867) {ddd};
\node at (axis cs:5.7816,-10.867) {wk};
\end{scope}
\end{axis}
\end{tikzpicture}
\end{document}
